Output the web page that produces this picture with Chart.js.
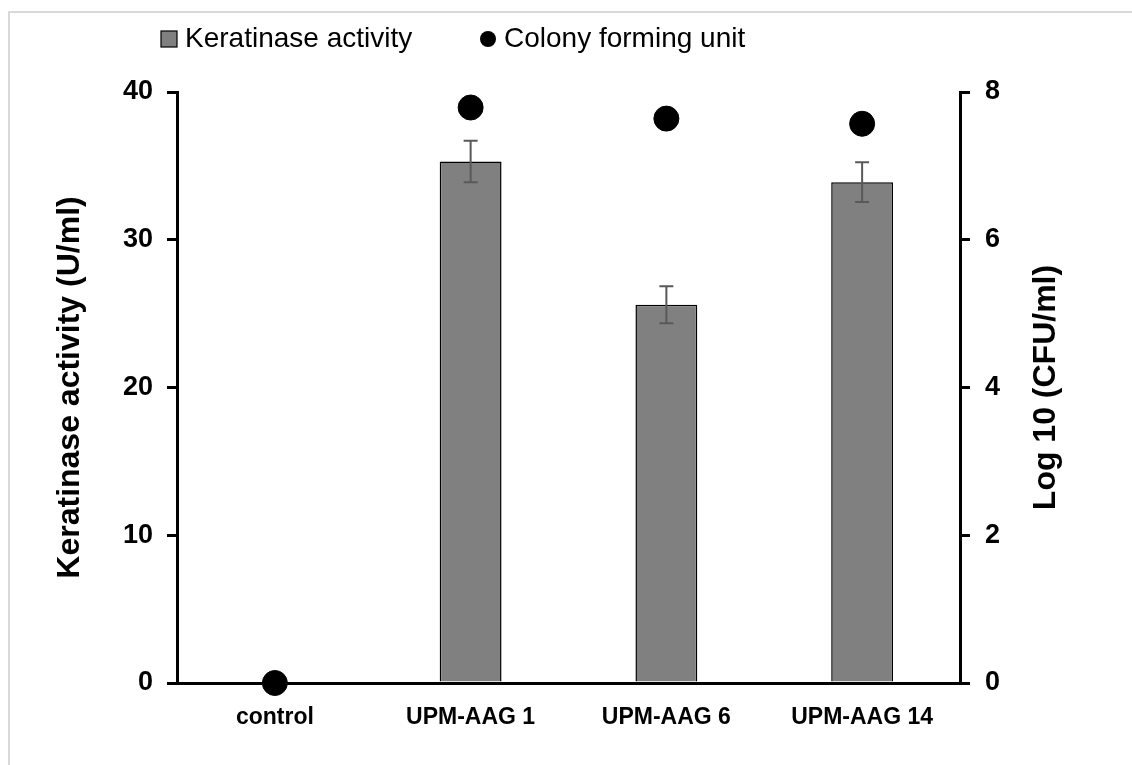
<!DOCTYPE html>
<html>
<head>
<meta charset="utf-8">
<script src="https://cdn.jsdelivr.net/npm/chart.js@4.4.1/dist/chart.umd.min.js"></script>
<style>
  html, body { margin: 0; padding: 0; background: #fff; }
  #wrap { position: relative; width: 1132px; height: 765px; overflow: hidden; }
  #frame { position: absolute; left: 8px; top: 11px; width: 1200px; height: 800px;
           border-left: 2px solid #d9d9d9; border-top: 2px solid #d9d9d9; }
  canvas { position: absolute; left: 0; top: 0; }
</style>
</head>
<body>
<div id="wrap">
  <div id="frame"></div>
  <canvas id="c" width="1132" height="765"></canvas>
</div>
<script>
// Strains tested
const categories = ['control', 'UPM-AAG 1', 'UPM-AAG 6', 'UPM-AAG 14'];
// Keratinase activity (U/ml) with standard error
const keratinase = [0, 35.3, 25.6, 33.9];
const keratinaseErr = [0, 1.4, 1.25, 1.35];
// Viable count, log10 CFU/ml
const logCfu = [0, 7.79, 7.64, 7.57];
// Axis tick values
const leftTicks = [0, 10, 20, 30, 40];
const rightTicks = [0, 2, 4, 6, 8];

const FONT = '"Liberation Sans", Arial, sans-serif';
const TITLE_FONT = 'bold 32px ' + FONT;

// Error whiskers on the bars, positioned through the bar scale
const errorBars = {
  id: 'errorBars',
  afterDatasetsDraw(chart) {
    const meta = chart.getDatasetMeta(1);
    const y = chart.scales.y;
    const ctx = chart.ctx;
    ctx.save();
    ctx.strokeStyle = '#595959';
    ctx.lineWidth = 2;
    meta.data.forEach((bar, i) => {
      const e = keratinaseErr[i];
      if (!e) return;
      const x = bar.x;
      const top = y.getPixelForValue(keratinase[i] + e);
      const bot = y.getPixelForValue(keratinase[i] - e);
      ctx.beginPath();
      ctx.moveTo(x, top); ctx.lineTo(x, bot);
      ctx.moveTo(x - 7, top); ctx.lineTo(x + 7, top);
      ctx.moveTo(x - 7, bot); ctx.lineTo(x + 7, bot);
      ctx.stroke();
    });
    ctx.restore();
  }
};

// Right axis title, reading bottom-to-top like the left one
const rightTitle = {
  id: 'rightTitle',
  afterDraw(chart) {
    const s = chart.scales.y1;
    const ctx = chart.ctx;
    const cy = (chart.chartArea.top + chart.chartArea.bottom) / 2;
    ctx.save();
    ctx.translate(1046, cy);
    ctx.rotate(-Math.PI / 2);
    ctx.font = TITLE_FONT;
    ctx.fillStyle = '#000';
    ctx.textAlign = 'center';
    ctx.textBaseline = 'middle';
    ctx.fillText(s.options.title.text, 0, 0);
    ctx.restore();
  }
};

// Legend row drawn above the plot
const topLegend = {
  id: 'topLegend',
  afterDraw(chart) {
    const ctx = chart.ctx;
    const bar = chart.data.datasets[1];
    const dot = chart.data.datasets[0];
    const cy = 39;
    ctx.save();
    ctx.font = '28px ' + FONT;
    ctx.textBaseline = 'middle';
    ctx.fillStyle = bar.backgroundColor;
    ctx.fillRect(161, cy - 8, 16, 16);
    ctx.strokeStyle = '#000';
    ctx.lineWidth = 1.2;
    ctx.strokeRect(161, cy - 8, 16, 16);
    ctx.fillStyle = '#000';
    ctx.fillText(bar.label, 185, cy);
    ctx.beginPath();
    ctx.arc(488, cy, 8, 0, Math.PI * 2);
    ctx.fillStyle = dot.backgroundColor;
    ctx.fill();
    ctx.fillStyle = '#000';
    ctx.fillText(dot.label, 504, cy);
    ctx.restore();
  }
};

const axisLine = { display: true, color: '#000', width: 3 };
const tickMarks = { drawOnChartArea: false, drawTicks: true, tickLength: 10, color: '#000', lineWidth: 3 };

new Chart(document.getElementById('c'), {
  data: {
    labels: categories,
    datasets: [
      {
        type: 'line',
        label: 'Colony forming unit',
        data: logCfu,
        yAxisID: 'y1',
        showLine: false,
        pointRadius: 12.5,
        pointHoverRadius: 12.5,
        pointBackgroundColor: '#000',
        pointBorderColor: '#000',
        backgroundColor: '#000',
        borderColor: '#000',
        clip: false,
        order: 0
      },
      {
        type: 'bar',
        label: 'Keratinase activity',
        data: keratinase,
        yAxisID: 'y',
        backgroundColor: '#808080',
        borderColor: '#000',
        borderWidth: 1.5,
        barPercentage: 0.316,
        categoryPercentage: 1,
        order: 1
      }
    ]
  },
  options: {
    responsive: false,
    animation: false,
    devicePixelRatio: 1,
    layout: { padding: { top: 92, left: 0, right: 0, bottom: 0 } },
    plugins: { legend: { display: false }, tooltip: { enabled: false } },
    scales: {
      x: {
        offset: true,
        grid: { display: false, drawTicks: false },
        border: axisLine,
        ticks: { color: '#000', font: { family: FONT, size: 23, weight: 'bold' }, padding: 21, maxRotation: 0 },
        afterFit(s) { s.height = 82; }
      },
      y: {
        position: 'left',
        min: leftTicks[0],
        max: leftTicks[leftTicks.length - 1],
        afterBuildTicks(s) { s.ticks = leftTicks.map(v => ({ value: v })); },
        grid: tickMarks,
        border: axisLine,
        ticks: { color: '#000', font: { family: FONT, size: 27, weight: 'bold' }, padding: 14 },
        title: { display: true, text: 'Keratinase activity (U/ml)', color: '#000',
                 font: { family: FONT, size: 32, weight: 'bold' }, padding: { top: 51, bottom: 0 } },
        afterFit(s) { s.width = 177; }
      },
      y1: {
        position: 'right',
        min: rightTicks[0],
        max: rightTicks[rightTicks.length - 1],
        afterBuildTicks(s) { s.ticks = rightTicks.map(v => ({ value: v })); },
        grid: tickMarks,
        border: axisLine,
        ticks: { color: '#000', font: { family: FONT, size: 27, weight: 'bold' }, padding: 15 },
        title: { display: false, text: 'Log 10 (CFU/ml)' },
        afterFit(s) { s.width = 172; }
      }
    }
  },
  plugins: [errorBars, rightTitle, topLegend]
});
</script>
</body>
</html>
